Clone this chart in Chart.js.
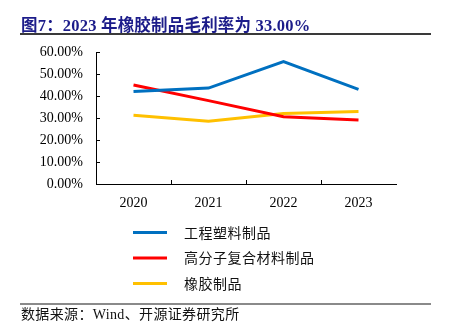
<!DOCTYPE html>
<html>
<head>
<meta charset="utf-8">
<script src="https://cdn.jsdelivr.net/npm/chart.js@4/dist/chart.umd.min.js"></script>
<style>
  html, body { margin: 0; padding: 0; background: #fff; }
  #wrap { position: relative; width: 450px; height: 333px; overflow: hidden; }
  #title {
    position: absolute; left: 21px; top: 12px;
    font: bold 16.5px "Liberation Serif", "Noto Sans CJK SC", serif;
    color: #1c1c8a; white-space: nowrap; letter-spacing: 0.2px;
  }
  #rule-top { position: absolute; left: 20px; top: 33px; width: 411px; height: 1.5px; background: #3a3a3a; }
  #rule-bottom { position: absolute; left: 20px; top: 303px; width: 411px; height: 1.5px; background: #8a8a8a; }
  #source {
    position: absolute; left: 21px; top: 303px;
    font: 14px "Liberation Serif", "Noto Sans CJK SC", serif;
    color: #111; white-space: nowrap; letter-spacing: 0.35px;
  }
  #chart { position: absolute; left: 0; top: 0; }
</style>
</head>
<body>
<div id="wrap">
  <canvas id="chart" width="450" height="333"></canvas>
  <div id="title">图7：2023 年橡胶制品毛利率为 33.00%</div>
  <div id="rule-top"></div>
  <div id="rule-bottom"></div>
  <div id="source">数据来源：Wind、开源证券研究所</div>
</div>
<script>
// Gross margin by product line, percent
const years = ['2020', '2021', '2022', '2023'];
const engineeringPlastics = [42.1, 43.6, 55.6, 43.0];
const polymerComposites = [45.0, 37.9, 30.6, 29.1];
const rubberProducts = [31.2, 28.5, 32.0, 33.0];
const seriesNames = ['工程塑料制品', '高分子复合材料制品', '橡胶制品'];
const yTicks = [0, 10, 20, 30, 40, 50, 60];

const serifFont = '"Liberation Serif", "Times New Roman", serif';
const cjkFont = '"Noto Sans CJK SC", "Liberation Serif", serif';

// Short tick marks pointing into the plot area
const innerTicks = {
  id: 'innerTicks',
  afterDraw(chart) {
    const ctx = chart.ctx;
    const area = chart.chartArea;
    const x = chart.scales.x, y = chart.scales.y;
    ctx.save();
    ctx.strokeStyle = '#000';
    ctx.lineWidth = 1;
    ctx.beginPath();
    yTicks.forEach(v => {
      const py = Math.round(y.getPixelForValue(v)) + 0.5;
      ctx.moveTo(area.left, py);
      ctx.lineTo(area.left + 4, py);
    });
    for (let i = 1; i < years.length; i++) {
      const px = Math.round((x.getPixelForValue(i - 1) + x.getPixelForValue(i)) / 2) + 0.5;
      ctx.moveTo(px, area.bottom);
      ctx.lineTo(px, area.bottom - 4);
    }
    ctx.stroke();
    ctx.restore();
  }
};

// Vertical legend below the axis
const stackedLegend = {
  id: 'stackedLegend',
  afterDraw(chart) {
    const ctx = chart.ctx;
    ctx.save();
    ctx.font = '14px ' + cjkFont;
    ctx.textBaseline = 'middle';
    ctx.fillStyle = '#111';
    chart.data.datasets.forEach((ds, i) => {
      const cy = 232.5 + i * 25.5;
      ctx.strokeStyle = ds.borderColor;
      ctx.lineWidth = 3;
      ctx.beginPath();
      ctx.moveTo(133, cy);
      ctx.lineTo(167, cy);
      ctx.stroke();
      let tx = 184;
      for (const ch of ds.label) {
        ctx.fillText(ch, tx, cy);
        tx += 14.5;
      }
    });
    ctx.restore();
  }
};

new Chart(document.getElementById('chart'), {
  type: 'line',
  data: {
    labels: years,
    datasets: [
      { label: seriesNames[0], data: engineeringPlastics, borderColor: '#0070C0' },
      { label: seriesNames[1], data: polymerComposites, borderColor: '#FF0000' },
      { label: seriesNames[2], data: rubberProducts, borderColor: '#FFC000' }
    ]
  },
  options: {
    responsive: false,
    animation: false,
    devicePixelRatio: 1,
    elements: {
      line: { borderWidth: 3, tension: 0, fill: false },
      point: { radius: 0, hoverRadius: 0 }
    },
    layout: { padding: { left: 0, top: 52, right: 54, bottom: 119 } },
    plugins: { legend: { display: false }, tooltip: { enabled: false } },
    scales: {
      x: {
        offset: true,
        grid: { display: false, drawTicks: false },
        border: { display: true, color: '#000', width: 1 },
        ticks: { color: '#000', font: { family: serifFont, size: 14 }, padding: 11, maxRotation: 0 },
        afterFit(s) { s.height = 30; }
      },
      y: {
        min: 0, max: 60,
        grid: { display: false, drawTicks: false },
        border: { display: true, color: '#000', width: 1 },
        afterBuildTicks(s) { s.ticks = yTicks.map(v => ({ value: v })); },
        ticks: {
          color: '#000',
          padding: 13,
          font: { family: serifFont, size: 14 },
          callback: v => v.toFixed(2) + '%'
        },
        afterFit(s) { s.width = 96; }
      }
    }
  },
  plugins: [innerTicks, stackedLegend]
});
</script>
</body>
</html>
